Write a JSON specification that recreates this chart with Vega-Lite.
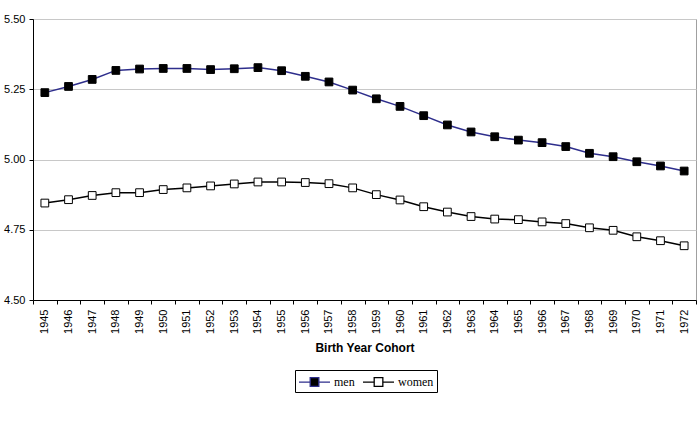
{
  "$schema": "https://vega.github.io/schema/vega-lite/v6.json",
  "width": 663,
  "height": 281,
  "autosize": {"type": "none"},
  "padding": {"left": 33, "top": 19, "right": 4, "bottom": 122},
  "background": "white",
  "data": {
    "values": [
      {"year": "1945", "series": "men", "value": 5.238},
      {"year": "1946", "series": "men", "value": 5.260},
      {"year": "1947", "series": "men", "value": 5.285},
      {"year": "1948", "series": "men", "value": 5.317},
      {"year": "1949", "series": "men", "value": 5.322},
      {"year": "1950", "series": "men", "value": 5.324},
      {"year": "1951", "series": "men", "value": 5.324},
      {"year": "1952", "series": "men", "value": 5.320},
      {"year": "1953", "series": "men", "value": 5.323},
      {"year": "1954", "series": "men", "value": 5.327},
      {"year": "1955", "series": "men", "value": 5.316},
      {"year": "1956", "series": "men", "value": 5.296},
      {"year": "1957", "series": "men", "value": 5.276},
      {"year": "1958", "series": "men", "value": 5.247},
      {"year": "1959", "series": "men", "value": 5.216},
      {"year": "1960", "series": "men", "value": 5.189},
      {"year": "1961", "series": "men", "value": 5.156},
      {"year": "1962", "series": "men", "value": 5.123},
      {"year": "1963", "series": "men", "value": 5.098},
      {"year": "1964", "series": "men", "value": 5.081},
      {"year": "1965", "series": "men", "value": 5.069},
      {"year": "1966", "series": "men", "value": 5.060},
      {"year": "1967", "series": "men", "value": 5.046},
      {"year": "1968", "series": "men", "value": 5.022},
      {"year": "1969", "series": "men", "value": 5.010},
      {"year": "1970", "series": "men", "value": 4.992},
      {"year": "1971", "series": "men", "value": 4.977},
      {"year": "1972", "series": "men", "value": 4.959},
      {"year": "1945", "series": "women", "value": 4.845},
      {"year": "1946", "series": "women", "value": 4.857},
      {"year": "1947", "series": "women", "value": 4.872},
      {"year": "1948", "series": "women", "value": 4.882},
      {"year": "1949", "series": "women", "value": 4.882},
      {"year": "1950", "series": "women", "value": 4.893},
      {"year": "1951", "series": "women", "value": 4.899},
      {"year": "1952", "series": "women", "value": 4.906},
      {"year": "1953", "series": "women", "value": 4.913},
      {"year": "1954", "series": "women", "value": 4.920},
      {"year": "1955", "series": "women", "value": 4.920},
      {"year": "1956", "series": "women", "value": 4.918},
      {"year": "1957", "series": "women", "value": 4.914},
      {"year": "1958", "series": "women", "value": 4.899},
      {"year": "1959", "series": "women", "value": 4.875},
      {"year": "1960", "series": "women", "value": 4.856},
      {"year": "1961", "series": "women", "value": 4.832},
      {"year": "1962", "series": "women", "value": 4.813},
      {"year": "1963", "series": "women", "value": 4.797},
      {"year": "1964", "series": "women", "value": 4.788},
      {"year": "1965", "series": "women", "value": 4.786},
      {"year": "1966", "series": "women", "value": 4.778},
      {"year": "1967", "series": "women", "value": 4.772},
      {"year": "1968", "series": "women", "value": 4.757},
      {"year": "1969", "series": "women", "value": 4.748},
      {"year": "1970", "series": "women", "value": 4.725},
      {"year": "1971", "series": "women", "value": 4.711},
      {"year": "1972", "series": "women", "value": 4.693}
    ]
  },
  "encoding": {
    "x": {
      "field": "year",
      "type": "ordinal",
      "scale": {"type": "band", "paddingInner": 0, "paddingOuter": 0},
      "axis": {
        "title": "Birth Year Cohort",
        "labelAngle": -90,
        "tickBand": "extent",
        "labelPadding": 5,
        "titlePadding": 9
      }
    },
    "y": {
      "field": "value",
      "type": "quantitative",
      "scale": {"domain": [4.5, 5.5], "nice": false, "zero": false},
      "axis": {
        "title": null,
        "values": [4.5, 4.75, 5.0, 5.25, 5.5],
        "format": ".2f",
        "grid": true,
        "labelPadding": 4
      }
    }
  },
  "layer": [
    {
      "mark": {"type": "line", "strokeWidth": 1.5},
      "encoding": {
        "stroke": {
          "field": "series",
          "type": "nominal",
          "scale": {"domain": ["men", "women"], "range": ["#2e2e8c", "#000000"]}
        }
      }
    },
    {
      "mark": {"type": "point", "shape": "square", "size": 60, "filled": true, "stroke": "#000000", "strokeWidth": 1, "opacity": 1},
      "encoding": {
        "fill": {
          "field": "series",
          "type": "nominal",
          "scale": {"domain": ["men", "women"], "range": ["#000000", "#ffffff"]}
        }
      }
    }
  ],
  "config": {
    "view": {"stroke": "#a0a0a0", "strokeWidth": 1},
    "font": "Liberation Sans",
    "legend": {
      "title": null,
      "orient": "none",
      "direction": "horizontal",
      "legendX": 262,
      "legendY": 351,
      "strokeColor": "#000000",
      "padding": 3,
      "symbolType": "M-1,0H0.4M1.48,0H2.875M0.4,-0.54H1.48V0.54H0.4Z",
      "symbolSize": 256,
      "symbolStrokeWidth": 1.3,
      "labelOffset": 18,
      "labelFont": "Liberation Serif",
      "labelFontSize": 12,
      "labelColor": "#000000",
      "columnPadding": 5
    },
    "axis": {
      "labelFont": "Liberation Sans",
      "labelFontSize": 11,
      "labelColor": "#000000",
      "titleFont": "Liberation Sans",
      "titleFontSize": 12,
      "titleFontWeight": "bold",
      "titleColor": "#000000",
      "domainColor": "#000000",
      "tickColor": "#000000",
      "tickSize": 4,
      "gridColor": "#c8c8c8"
    },
    "axisX": {"grid": false}
  }
}
